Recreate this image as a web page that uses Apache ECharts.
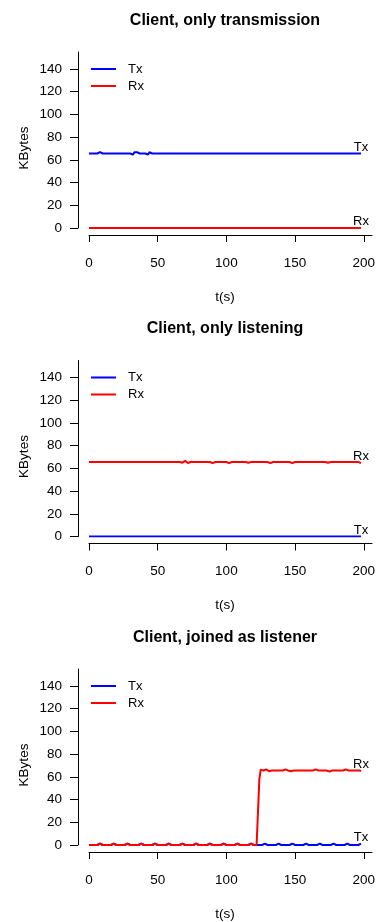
<!DOCTYPE html>
<html>
<head>
<meta charset="utf-8">
<script src="https://cdn.jsdelivr.net/npm/echarts@6/dist/echarts.min.js"></script>
<style>
html,body{margin:0;padding:0;background:#fff;}
#chart{width:379px;height:922px;}
</style>
</head>
<body>
<div id="chart"></div>
<script>
// time (s)
const T = [
0,1,2,3,4,5,6,7,8,9,
10,11,12,13,14,15,16,17,18,19,
20,21,22,23,24,25,26,27,28,29,
30,31,32,33,34,35,36,37,38,39,
40,41,42,43,44,45,46,47,48,49,
50,51,52,53,54,55,56,57,58,59,
60,61,62,63,64,65,66,67,68,69,
70,71,72,73,74,75,76,77,78,79,
80,81,82,83,84,85,86,87,88,89,
90,91,92,93,94,95,96,97,98,99,
100,101,102,103,104,105,106,107,108,109,
110,111,112,113,114,115,116,117,118,119,
120,121,122,123,124,125,126,127,128,129,
130,131,132,133,134,135,136,137,138,139,
140,141,142,143,144,145,146,147,148,149,
150,151,152,153,154,155,156,157,158,159,
160,161,162,163,164,165,166,167,168,169,
170,171,172,173,174,175,176,177,178,179,
180,181,182,183,184,185,186,187,188,189,
190,191,192,193,194,195,196,197,198];

// Panel 1: Client, only transmission
const p1Tx = [
65.6,65.6,65.6,65.6,65.6,66.7,65.6,64.5,66.8,65.6,
65.6,65.6,65.6,65.6,65.6,66.7,65.6,65.6,65.6,65.6,
65.6,65.6,65.6,65.6,65.6,66.7,65.6,65.6,65.6,65.6,
65.6,65.6,64.6,66.7,65.6,66.7,65.6,65.6,65.6,65.6,
65.6,65.6,65.6,64.7,66.7,66.4,65.6,65.6,65.6,65.6,
65.6,65.6,65.6,65.6,65.6,66.7,65.6,65.6,65.6,65.6,
65.6,65.6,65.6,65.6,65.6,66.7,65.6,65.6,65.6,65.6,
65.6,65.6,65.6,65.6,65.6,66.7,65.6,65.6,65.6,65.6,
65.6,65.6,65.6,65.6,65.6,66.7,65.6,65.6,65.6,65.6,
65.6,65.6,65.6,65.6,65.6,66.7,65.6,65.6,65.6,65.6,
65.6,65.6,65.6,65.6,65.6,66.7,65.6,65.6,65.6,65.6,
65.6,65.6,65.6,65.6,65.6,66.7,65.6,65.6,65.6,65.6,
65.6,65.6,65.6,65.6,65.6,66.7,65.6,65.6,65.6,65.6,
65.6,65.6,65.6,65.6,65.6,66.7,65.6,65.6,65.6,65.6,
65.6,65.6,65.6,65.6,65.6,66.7,65.6,65.6,65.6,65.6,
65.6,65.6,65.6,65.6,65.6,66.7,65.6,65.6,65.6,65.6,
65.6,65.6,65.6,65.6,65.6,66.7,65.6,65.6,65.6,65.6,
65.6,65.6,65.6,65.6,65.6,66.7,65.6,65.6,65.6,65.6,
65.6,65.6,65.6,65.6,65.6,66.7,65.6,65.6,65.6,65.6,
65.6,65.6,65.6,65.6,65.6,66.7,65.6,65.6,65.6];
const p1Rx = [
0,0,0,0,0,1.2,0,0,0,0,
0,0,0,0,0,1.2,0,0,0,0,
0,0,0,0,0,1.2,0,0,0,0,
0,0,0,0,0,1.2,0,0,0,0,
0,0,0,0,0,1.2,0,0,0,0,
0,0,0,0,0,1.2,0,0,0,0,
0,0,0,0,0,1.2,0,0,0,0,
0,0,0,0,0,1.2,0,0,0,0,
0,0,0,0,0,1.2,0,0,0,0,
0,0,0,0,0,1.2,0,0,0,0,
0,0,0,0,0,1.2,0,0,0,0,
0,0,0,0,0,1.2,0,0,0,0,
0,0,0,0,0,1.2,0,0,0,0,
0,0,0,0,0,1.2,0,0,0,0,
0,0,0,0,0,1.2,0,0,0,0,
0,0,0,0,0,1.2,0,0,0,0,
0,0,0,0,0,1.2,0,0,0,0,
0,0,0,0,0,1.2,0,0,0,0,
0,0,0,0,0,1.2,0,0,0,0,
0,0,0,0,0,1.2,0,0,0];

// Panel 2: Client, only listening
const p2Tx = [
0,0,0,0,0,0,0,0,0,1.2,
0,0,0,0,0,1.2,0,0,0,1.2,
0,0,0,0,0,0,0,0,0,1.2,
0,0,0,0,0,0,0,0,0,1.2,
0,0,0,0,0,1.2,0,0,0,1.2,
0,0,0,0,0,0,0,0,0,1.2,
0,0,0,0,0,0,0,0,0,1.2,
0,0,0,0,0,1.2,0,0,0,1.2,
0,0,0,0,0,0,0,0,0,1.2,
0,0,0,0,0,0,0,0,0,1.2,
0,0,0,0,0,1.2,0,0,0,1.2,
0,0,0,0,0,0,0,0,0,1.2,
0,0,0,0,0,0,0,0,0,1.2,
0,0,0,0,0,1.2,0,0,0,1.2,
0,0,0,0,0,0,0,0,0,1.2,
0,0,0,0,0,0,0,0,0,1.2,
0,0,0,0,0,1.2,0,0,0,1.2,
0,0,0,0,0,0,0,0,0,1.2,
0,0,0,0,0,0,0,0,0,1.2,
0,0,0,0,0,0,0,0,0];
const p2Rx = [
65.6,65.6,65.6,65.6,65.6,65.6,65.6,65.6,65.6,65.6,
65.6,65.6,65.6,65.6,65.6,65.6,65.6,65.6,65.6,65.6,
65.6,65.6,65.6,65.6,65.6,65.6,65.6,65.6,65.6,65.6,
65.6,65.6,65.6,65.6,65.6,65.6,65.6,65.6,65.6,65.6,
65.6,65.6,65.6,65.6,65.6,65.6,65.6,65.6,65.6,65.6,
65.6,65.6,65.6,65.6,65.6,65.6,65.6,65.6,65.6,65.6,
65.6,65.6,65.6,65.6,65.6,65.6,65.6,66.6,65.0,64.8,
66.6,65.0,64.7,66.4,65.6,65.6,65.6,65.6,65.6,65.6,
65.6,65.6,65.6,65.6,65.6,65.6,65.6,66.6,65.6,65.2,
64.6,65.6,65.6,65.6,65.6,65.6,65.6,65.6,65.6,66.6,
65.6,65.0,64.6,65.6,65.6,65.6,65.6,65.6,65.6,65.6,
65.6,65.6,65.6,66.6,65.6,65.6,65.0,64.6,65.6,65.6,
65.6,65.6,65.6,65.6,65.6,65.6,65.6,65.6,65.6,66.6,
65.6,65.0,64.6,65.6,65.6,65.6,65.6,65.6,65.6,65.6,
65.6,65.6,65.6,66.6,65.6,65.6,65.6,65.0,64.6,65.6,
65.6,65.6,65.6,65.6,65.6,65.6,65.6,65.6,65.6,65.6,
65.6,65.6,65.6,65.6,65.6,66.6,65.6,65.6,65.6,65.6,
65.6,65.6,65.6,65.6,65.0,64.6,65.6,65.6,65.6,65.6,
65.6,65.6,65.6,65.6,65.6,65.6,65.6,66.6,65.6,65.6,
65.6,65.6,65.6,65.6,65.6,65.6,65.6,65.6,64.6];

// Panel 3: Client, joined as listener
const p3Tx = [
0,0,0,0,0,0,0,0,1.2,0,
0,0,0,0,0,0,0,0,1.2,0,
0,0,0,0,0,0,0,0,1.2,0,
0,0,0,0,0,0,0,0,1.2,0,
0,0,0,0,0,0,0,0,1.2,0,
0,0,0,0,0,0,0,0,1.2,0,
0,0,0,0,0,0,0,0,1.2,0,
0,0,0,0,0,0,0,0,1.2,0,
0,0,0,0,0,0,0,0,1.2,0,
0,0,0,0,0,0,0,0,1.2,0,
0,0,0,0,0,0,0,0,1.2,0,
0,0,0,0,0,0,0,0,1.2,0,
0,0,0,0,0,0,0,0,1.2,0,
0,0,0,0,0,0,0,0,1.2,0,
0,0,0,0,0,0,0,0,1.2,0,
0,0,0,0,0,0,0,0,1.2,0,
0,0,0,0,0,0,0,0,1.2,0,
0,0,0,0,0,0,0,0,1.2,0,
0,0,0,0,0,0,0,0,1.2,0,
0,0,0,0,0,0,0,0,1.2];
const p3Rx = [
0,0,0,0,0,0,0,0,1.2,0,
0,0,0,0,0,0,0,0,1.2,0,
0,0,0,0,0,0,0,0,1.2,0,
0,0,0,0,0,0,0,0,1.2,0,
0,0,0,0,0,0,0,0,1.2,0,
0,0,0,0,0,0,0,0,1.2,0,
0,0,0,0,0,0,0,0,1.2,0,
0,0,0,0,0,0,0,0,1.2,0,
0,0,0,0,0,0,0,0,1.2,0,
0,0,0,0,0,0,0,0,1.2,0,
0,0,0,0,0,0,0,0,1.2,0,
0,0,0,0,0,0,0,0,1.2,0,
0,0,0,0,58,66.4,65.6,65.6,65.6,66.6,
65.6,65.0,64.6,65.6,65.6,65.6,65.6,65.6,65.6,65.6,
65.6,65.6,65.6,66.6,65.6,65.6,65.6,65.0,64.6,65.6,
65.6,65.6,65.6,65.6,65.6,65.6,65.6,65.6,65.6,65.6,
65.6,65.6,65.6,65.6,65.6,66.6,65.6,65.6,65.6,65.6,
65.6,65.6,65.6,65.6,65.0,64.6,65.6,65.6,65.6,65.6,
65.6,65.6,65.6,65.6,65.6,65.6,65.6,66.6,65.6,65.6,
65.6,65.6,65.6,65.6,65.6,65.6,65.6,65.6,65.0];

const titles = ['Client, only transmission', 'Client, only listening', 'Client, joined as listener'];
const txSeries = [p1Tx, p2Tx, p3Tx];
const rxSeries = [p1Rx, p2Rx, p3Rx];
const xTicks = [0, 50, 100, 150, 200];
const yTicks = [0, 20, 40, 60, 80, 100, 120, 140];
const seriesNames = ['Tx', 'Rx'];

const FONT = 'Liberation Sans, Arial, Helvetica, sans-serif';
const BLUE = '#0000ff', RED = '#ff0000';
const offsets = [0, 308.5, 617];

const option = {
  animation: false,
  backgroundColor: '#fff',
  title: [], grid: [], xAxis: [], yAxis: [], legend: [], series: []
};

offsets.forEach((P, i) => {
  option.title.push({
    text: titles[i], left: 225, top: 20.5 + P, textAlign: 'center', textVerticalAlign: 'middle', padding: 0,
    textStyle: { fontSize: 16, fontWeight: 'bold', color: '#000', fontFamily: FONT }
  });
  option.grid.push({ left: 89, width: 283, top: 52 + P, height: 176 });
  option.xAxis.push({
    gridIndex: i, type: 'value', min: 0, max: 206, offset: 7,
    axisLine: { show: true, onZero: false, lineStyle: { color: '#000', width: 1 } },
    axisTick: { show: true, length: 7, customValues: xTicks, lineStyle: { color: '#000', width: 1 } },
    axisLabel: { customValues: xTicks, margin: 21, fontSize: 13.5, color: '#000', fontFamily: FONT },
    splitLine: { show: false },
    name: 't(s)', nameLocation: 'middle', nameGap: 55, nameMoveOverlap: false,
    nameTextStyle: { fontSize: 13.5, color: '#000', fontFamily: FONT, padding: [0, 11, 0, 0] }
  });
  option.yAxis.push({
    gridIndex: i, type: 'value', min: 0, max: 155, offset: 11,
    axisLine: { show: true, onZero: false, lineStyle: { color: '#000', width: 1 } },
    axisTick: { show: true, length: 8, customValues: yTicks, lineStyle: { color: '#000', width: 1 } },
    axisLabel: { customValues: yTicks, margin: 16, fontSize: 13.5, color: '#000', fontFamily: FONT },
    splitLine: { show: false },
    name: 'KBytes', nameLocation: 'middle', nameGap: 47, nameMoveOverlap: false,
    nameTextStyle: { fontSize: 13.5, color: '#000', fontFamily: FONT, padding: [0, 16, 0, 0] }
  });
  option.legend.push({
    data: seriesNames, orient: 'vertical', left: 91, top: 62 + P, padding: 0,
    icon: 'rect', itemWidth: 25, itemHeight: 2, itemGap: 3, selectedMode: false,
    textStyle: { fontSize: 13, lineHeight: 14, color: '#000', fontFamily: FONT, padding: [0, 0, 0, 7] }
  });
  [[seriesNames[0], txSeries[i], BLUE], [seriesNames[1], rxSeries[i], RED]].forEach(([name, vals, col]) => {
    option.series.push({
      type: 'line', name: name, xAxisIndex: i, yAxisIndex: i,
      data: T.map((t, k) => [t, vals[k]]),
      symbol: 'none', showSymbol: false,
      lineStyle: { color: col, width: 2 }, itemStyle: { color: col },
      endLabel: { show: true, formatter: name, align: 'center', verticalAlign: 'bottom', distance: 0,
                  color: '#000', fontSize: 13, fontFamily: FONT },
      emphasis: { disabled: true }
    });
  });
});

const chart = echarts.init(document.getElementById('chart'), null, { renderer: 'canvas' });
chart.setOption(option);
</script>
</body>
</html>
